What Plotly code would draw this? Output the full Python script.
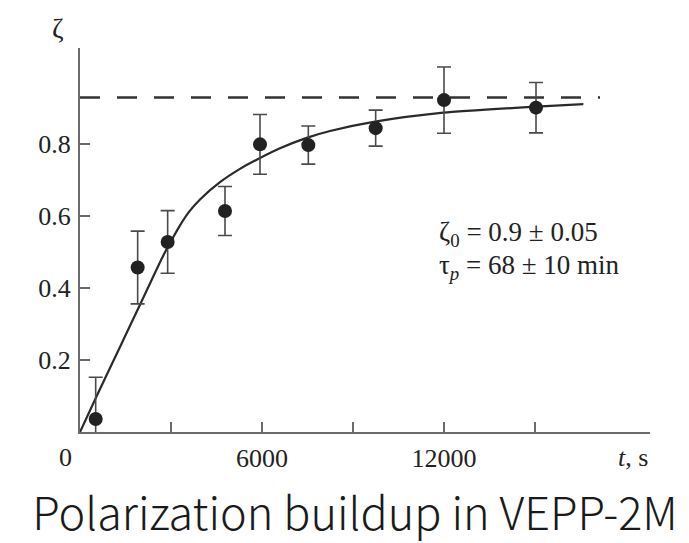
import plotly.graph_objects as go

# Measured data points (t in s, polarization zeta)
t_points = [517, 1901, 2890, 4780, 5934, 7527, 9747, 12000, 15033]
zeta_points = [0.036, 0.457, 0.528, 0.614, 0.799, 0.797, 0.844, 0.922, 0.901]
zeta_errors = [0.116, 0.101, 0.087, 0.068, 0.083, 0.053, 0.050, 0.092, 0.070]

# Fitted curve
t_curve = [0, 551, 1098, 1648, 2199, 2746, 3100, 3297, 3600, 3956, 4615, 5275,
           5934, 6593, 7473, 8242, 9725, 11978, 15055, 16593]
zeta_curve = [0.0, 0.100, 0.197, 0.295, 0.393, 0.490, 0.545, 0.574, 0.612, 0.646,
              0.694, 0.731, 0.761, 0.788, 0.817, 0.836, 0.862, 0.887, 0.904, 0.911]

# Asymptote (dashed)
t_asym = [0, 17143]
zeta_asym = [0.929, 0.929]

x_tickvals = [6000, 12000]
x_ticktext = ["6000", "12000"]
x_minor_vals = [3000, 9000, 15000]
y_tickvals = [0.2, 0.4, 0.6, 0.8]
y_ticktext = ["0.2", "0.4", "0.6", "0.8"]

serif = "Liberation Serif"
ink = "#222222"
axis_col = "#6a6a6a"

fig = go.Figure()
fig.add_trace(go.Scatter(x=t_asym, y=zeta_asym, mode="lines",
                         line=dict(color="#333333", width=2.4, dash="20px,17px"),
                         hoverinfo="skip", showlegend=False))
fig.add_trace(go.Scatter(x=t_curve, y=zeta_curve, mode="lines",
                         line=dict(color="#2a2a2a", width=2.2, shape="spline", smoothing=0.6),
                         showlegend=False))
fig.add_trace(go.Scatter(x=t_points, y=zeta_points, mode="markers",
                         marker=dict(color="#222222", size=14),
                         error_y=dict(type="data", array=zeta_errors, color="#4a4a4a",
                                      thickness=1.6, width=7),
                         showlegend=False))

fig.update_layout(
    width=689, height=543,
    margin=dict(l=80, r=39, t=48, b=111),
    paper_bgcolor="white", plot_bgcolor="white",
    font=dict(family=serif, size=26, color=ink),
    xaxis=dict(range=[0, 18791], tickvals=x_tickvals, ticktext=x_ticktext,
               ticks="inside", ticklen=10, tickwidth=1.6, tickcolor=axis_col,
               minor=dict(tickvals=x_minor_vals, ticks="inside", ticklen=10,
                          tickwidth=1.6, tickcolor=axis_col, showgrid=False),
               showline=True, linecolor=axis_col, linewidth=2, showgrid=False,
               zeroline=False, ticklabelstandoff=2,
               tickfont=dict(family=serif, size=26, color=ink)),
    yaxis=dict(range=[0, 1.0667], tickvals=y_tickvals, ticktext=y_ticktext,
               ticks="inside", ticklen=10, tickwidth=1.6, tickcolor=axis_col,
               showline=True, linecolor=axis_col, linewidth=2, showgrid=False,
               zeroline=False, ticklabelstandoff=2,
               tickfont=dict(family=serif, size=26, color=ink)),
    title=dict(text="Polarization buildup in VEPP-2M", x=(355 / 689), xanchor="center",
               xref="container", yref="container", y=(543 - 514) / 543,
               yanchor="middle",
               font=dict(family="Noto Sans CJK SC", size=45, weight=300,
                         color="#1a1a1a")),
)

fig.add_annotation(text="0", x=0, y=0, xref="x", yref="y", xanchor="right",
                   yanchor="top", xshift=-6, yshift=-9, showarrow=False,
                   font=dict(family=serif, size=26, color=ink))
fig.add_annotation(text="<i>t</i>, s", x=1, y=0, xref="paper", yref="paper",
                   xanchor="right", yanchor="top", yshift=-9, showarrow=False,
                   font=dict(family=serif, size=26, color=ink))
fig.add_annotation(text="ζ", x=(58 - 80) / 570, y=(432 - 28) / 384, xref="paper",
                   yref="paper", xanchor="center", yanchor="middle", showarrow=False,
                   font=dict(family=serif, size=28, color=ink))
fig.add_annotation(text="ζ<sub>0</sub> = 0.9 ± 0.05", x=(437 - 80) / 570,
                   y=(432 - 234) / 384, xref="paper", yref="paper", xanchor="left",
                   yanchor="middle", showarrow=False,
                   font=dict(family=serif, size=27, color=ink))
fig.add_annotation(text="τ<sub><i>p</i></sub> = 68 ± 10 min", x=(437 - 80) / 570,
                   y=(432 - 267) / 384, xref="paper", yref="paper", xanchor="left",
                   yanchor="middle", showarrow=False,
                   font=dict(family=serif, size=27, color=ink))

fig.write_html("out.html")
